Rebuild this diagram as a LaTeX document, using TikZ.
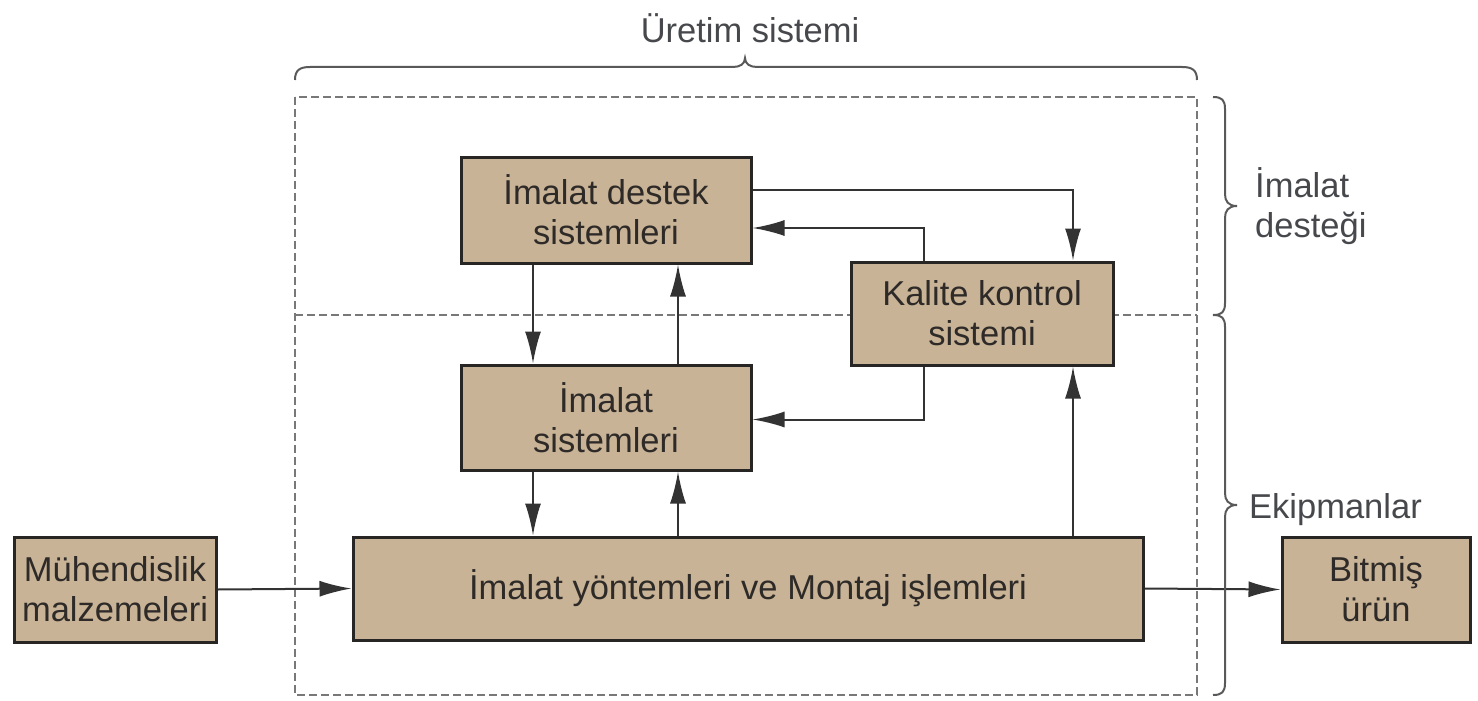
\documentclass[tikz,border=0pt]{standalone}
\usepackage{fontspec}
\setmainfont{Liberation Sans}
\usetikzlibrary{arrows.meta}
\definecolor{boxfill}{RGB}{201,179,150}
\definecolor{boxline}{RGB}{40,38,36}
\definecolor{txt}{RGB}{45,42,40}
\definecolor{lbl}{RGB}{70,72,76}
\definecolor{dash}{RGB}{120,120,120}
\begin{document}
\begin{tikzpicture}[x=1pt,y=-1pt,
  box/.style={draw=boxline,line width=3pt,fill=boxfill,text=txt,align=center,inner sep=0pt,
    font=\fontsize{34.5}{40}\selectfont},
  arr/.style={draw=black!80,line width=2pt,-{Latex[length=32pt,width=16pt]}},
  dsh/.style={draw=dash,line width=2pt,dash pattern=on 8pt off 4pt},
  brc/.style={draw=black!65,line width=2pt},
  lab/.style={text=lbl,inner sep=0pt,font=\fontsize{34.5}{40}\selectfont}]
\useasboundingbox (0,0) rectangle (1478,701);
% dashed system frame
\draw[dsh] (295,97) rectangle (1197,695);
\draw[dsh] (295,315) -- (1197,315);
% boxes
\node[box,minimum width=290pt,minimum height=106pt] (sup) at (606,210) {İmalat destek\\sistemleri};
\node[box,minimum width=262pt,minimum height=103pt] (kal) at (982,313.5) {Kalite kontrol\\sistemi};
\node[box,minimum width=290pt,minimum height=105pt] (ims) at (606,417.5) {İmalat\\sistemleri};
\node[box,minimum width=790pt,minimum height=103pt] (main) at (748,588.5) {İmalat yöntemleri ve Montaj işlemleri};
\node[box,minimum width=202pt,minimum height=105pt] (muh) at (115,589.5) {Mühendislik\\malzemeleri};
\node[box,minimum width=188pt,minimum height=105pt] (bit) at (1376,589.5) {Bitmiş\\ürün};
% connectors
\draw[arr] ([yshift=20pt]sup.east) -| ([xshift=91pt]kal.north);
\draw[arr] ([xshift=-58pt]kal.north) |- ([yshift=-18pt]sup.east);
\draw[arr] ([xshift=-73pt]sup.south) -- ([xshift=-73pt]ims.north);
\draw[arr] ([xshift=72pt]ims.north) -- ([xshift=72pt]sup.south);
\draw[arr] ([xshift=-58pt]kal.south) |- ([yshift=-2pt]ims.east);
\draw[arr] ([xshift=-73pt]ims.south) -- ([xshift=-73pt]ims.south |- main.north);
\draw[arr] ([xshift=72pt]ims.south |- main.north) -- ([xshift=72pt]ims.south);
\draw[arr] ([xshift=91pt]kal.south |- main.north) -- ([xshift=91pt]kal.south);
\draw[arr] (muh.east) -- (main.west);
\draw[arr] (main.east) -- (bit.west);
% braces
\draw[brc] (295,80) .. controls (295,70) and (300,67) .. (310,67) -- (733,67)
  .. controls (740,67) and (745,64) .. (745,58) .. controls (745,64) and (750,67) .. (757,67)
  -- (1182,67) .. controls (1192,67) and (1197,70) .. (1197,80);
\draw[brc] (1213,97) .. controls (1222,97) and (1225,100) .. (1225,109) -- (1225,194)
  .. controls (1225,201) and (1228,206) .. (1237,206) .. controls (1228,206) and (1225,211) .. (1225,218)
  -- (1225,303) .. controls (1225,312) and (1222,315) .. (1213,315);
\draw[brc] (1213,315) .. controls (1222,315) and (1225,318) .. (1225,327) -- (1225,493)
  .. controls (1225,500) and (1228,505) .. (1237,505) .. controls (1228,505) and (1225,510) .. (1225,517)
  -- (1225,683) .. controls (1225,692) and (1222,695) .. (1213,695);
% labels
\node[lab] (uretim) at (750,28) {Üretim sistemi};
\node[lab,anchor=west,align=left] (destek) at (1255,206) {İmalat\\desteği};
\node[lab,anchor=west] (ekip) at (1249,510) {Ekipmanlar};
\end{tikzpicture}
\end{document}
